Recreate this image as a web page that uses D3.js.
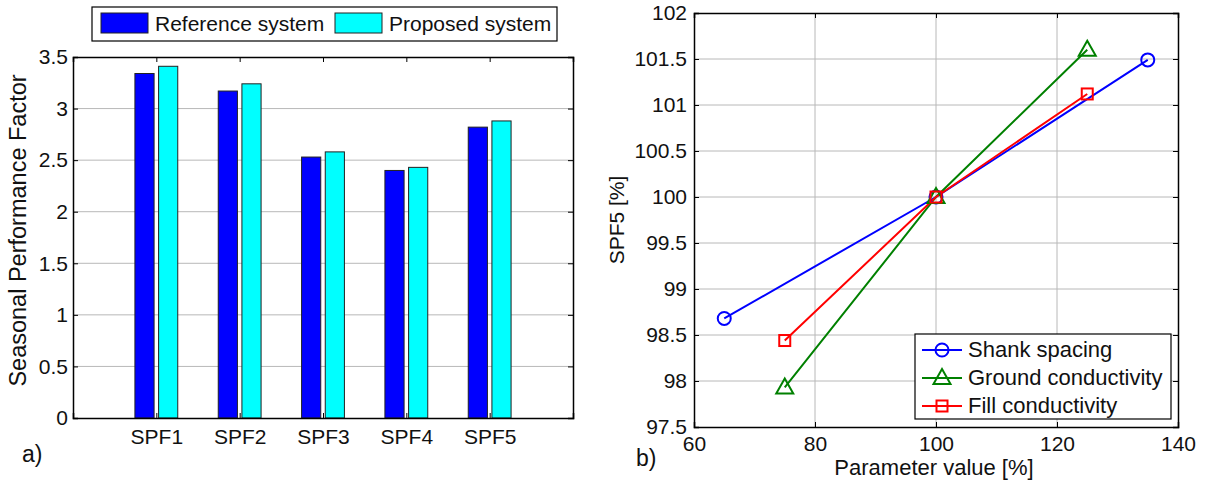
<!DOCTYPE html>
<html><head><meta charset="utf-8">
<script src="https://cdn.jsdelivr.net/npm/d3@7"></script>
<style>
body{margin:0;background:#fff;}
svg text{font-family:"Liberation Sans",Arial,Helvetica,sans-serif;fill:#111;}
</style></head>
<body><svg id="c" width="1205" height="482"></svg>
<script>
// ---- data ----
const categories = ["SPF1","SPF2","SPF3","SPF4","SPF5"];
const seriesNames = ["Reference system","Proposed system"];
const refValues = [3.34, 3.17, 2.53, 2.40, 2.82];
const propValues = [3.41, 3.24, 2.58, 2.43, 2.88];
const barYTicks = [0,0.5,1,1.5,2,2.5,3,3.5];

const lineNames = ["Shank spacing","Ground conductivity","Fill conductivity"];
const shankX = [65,100,135];
const shankY = [98.68,100,101.49];
const groundX = [75,100,125];
const groundY = [97.93,100,101.6];
const fillX = [75,100,125];
const fillY = [98.44,100,101.12];
const lineXTicks = [60,80,100,120,140];
const lineYTicks = [97.5,98,98.5,99,99.5,100,100.5,101,101.5,102];

const svg = d3.select("#c");
const FS = 21;
const gridCol = "#b8b8b8";

// ================= LEFT: bar chart =================
{
  const L=73,R=573,T=57,B=418;
  const x = d3.scaleLinear().domain([0,6]).range([L,R]);
  const y = d3.scaleLinear().domain([0,3.5]).range([B,T]);
  const g = svg.append("g");
  g.selectAll(".gy").data(barYTicks.filter(d=>d>0&&d<3.5)).join("line")
    .attr("x1",L).attr("x2",R).attr("y1",d=>y(d)).attr("y2",d=>y(d))
    .attr("stroke",gridCol).attr("stroke-width",1);
  const off = 0.142, w = 0.23;
  const cols = ["#0000ff","#00ffff"];
  [refValues,propValues].forEach((vals,s)=>{
    g.selectAll(".b"+s).data(vals).join("rect")
      .attr("x",(d,i)=>x(i+1+(s===0?-off:off)-w/2))
      .attr("width",x(w)-x(0))
      .attr("y",d=>y(d)).attr("height",d=>y(0)-y(d))
      .attr("fill",cols[s]).attr("stroke","#222").attr("stroke-width",1);
  });
  const ax = d3.axisBottom(x).tickValues([1,2,3,4,5]).tickFormat(d=>categories[d-1]).tickSize(-5).tickPadding(11);
  g.append("g").attr("transform",`translate(0,${B})`).call(ax);
  g.append("g").attr("transform",`translate(0,${T})`).call(d3.axisTop(x).tickValues([1,2,3,4,5]).tickSize(-5).tickFormat(""));
  g.append("g").attr("transform",`translate(${L},0)`).call(d3.axisLeft(y).tickValues(barYTicks).tickFormat(d3.format("")).tickSize(-5).tickPadding(5));
  g.append("g").attr("transform",`translate(${R},0)`).call(d3.axisRight(y).tickValues(barYTicks).tickSize(-5).tickFormat(""));
  g.selectAll(".domain").attr("stroke","#000").attr("stroke-width",1.5);
  g.selectAll(".tick line").attr("stroke","#000");
  g.selectAll(".tick text").attr("font-size",FS).attr("fill","#111");
  g.append("text").attr("transform",`translate(26,${(T+B)/2-7}) rotate(-90)`)
    .attr("text-anchor","middle").attr("font-size",23.5).text("Seasonal Performance Factor");
  g.append("text").attr("x",22).attr("y",462).attr("font-size",23).text("a)");
  const lg = g.append("g");
  lg.append("rect").attr("x",92).attr("y",7).attr("width",465).attr("height",34)
    .attr("fill","#fff").attr("stroke","#000").attr("stroke-width",1.2);
  const lx = [101,335];
  seriesNames.forEach((n,i)=>{
    lg.append("rect").attr("x",lx[i]).attr("y",13).attr("width",47).attr("height",20)
      .attr("fill",cols[i]).attr("stroke","#222");
    lg.append("text").attr("x",lx[i]+54).attr("y",31).attr("font-size",FS).text(n);
  });
}

// ================= RIGHT: line chart =================
{
  const L=694,R=1178,T=13,B=427;
  const x = d3.scaleLinear().domain([60,140]).range([L,R]);
  const y = d3.scaleLinear().domain([97.5,102]).range([B,T]);
  const g = svg.append("g");
  g.selectAll(".gx").data(lineXTicks.slice(1,-1)).join("line")
    .attr("x1",d=>x(d)).attr("x2",d=>x(d)).attr("y1",T).attr("y2",B)
    .attr("stroke",gridCol);
  g.selectAll(".gy").data(lineYTicks.slice(1,-1)).join("line")
    .attr("x1",L).attr("x2",R).attr("y1",d=>y(d)).attr("y2",d=>y(d))
    .attr("stroke",gridCol);
  g.append("g").attr("transform",`translate(0,${B})`).call(d3.axisBottom(x).tickValues(lineXTicks).tickSize(-5).tickPadding(9));
  g.append("g").attr("transform",`translate(0,${T})`).call(d3.axisTop(x).tickValues(lineXTicks).tickSize(-5).tickFormat(""));
  g.append("g").attr("transform",`translate(${L},0)`).call(d3.axisLeft(y).tickValues(lineYTicks).tickFormat(d3.format("")).tickSize(-5).tickPadding(7));
  g.append("g").attr("transform",`translate(${R},0)`).call(d3.axisRight(y).tickValues(lineYTicks).tickSize(-5).tickFormat(""));
  g.selectAll(".domain").attr("stroke","#000").attr("stroke-width",1.5);
  g.selectAll(".tick line").attr("stroke","#000");
  g.selectAll(".tick text").attr("font-size",FS).attr("fill","#111");

  const series = [
    {name:lineNames[0],xs:shankX,ys:shankY,col:"#0000ff",m:"circle"},
    {name:lineNames[1],xs:groundX,ys:groundY,col:"#008000",m:"triangle"},
    {name:lineNames[2],xs:fillX,ys:fillY,col:"#ff0000",m:"square"}
  ];
  const line = d3.line().x(d=>x(d[0])).y(d=>y(d[1]));
  function marker(sel,type,col,cx,cy){
    if(type==="circle") sel.append("circle").attr("cx",cx).attr("cy",cy).attr("r",6.5)
      .attr("fill","none").attr("stroke",col).attr("stroke-width",2);
    else if(type==="triangle") sel.append("path")
      .attr("d",`M${cx},${cy-9}L${cx+8.5},${cy+6}L${cx-8.5},${cy+6}Z`)
      .attr("fill","none").attr("stroke",col).attr("stroke-width",2);
    else sel.append("rect").attr("x",cx-5.5).attr("y",cy-5.5).attr("width",11).attr("height",11)
      .attr("fill","none").attr("stroke",col).attr("stroke-width",2);
  }
  series.forEach(s=>{
    const pts = s.xs.map((v,i)=>[v,s.ys[i]]);
    g.append("path").attr("d",line(pts)).attr("fill","none").attr("stroke",s.col).attr("stroke-width",2);
  });
  series.forEach(s=>{
    s.xs.forEach((v,i)=>marker(g,s.m,s.col,x(v),y(s.ys[i])));
  });
  g.append("text").attr("transform",`translate(624,${(T+B)/2}) rotate(-90)`)
    .attr("text-anchor","middle").attr("font-size",FS).text("SPF5 [%]");
  g.append("text").attr("x",(L+R)/2-2).attr("y",475).attr("text-anchor","middle").attr("font-size",22).text("Parameter value [%]");
  g.append("text").attr("x",636).attr("y",466).attr("font-size",23).text("b)");
  const lg = g.append("g");
  lg.append("rect").attr("x",915).attr("y",334).attr("width",256).attr("height",85)
    .attr("fill","#fff").attr("stroke","#000").attr("stroke-width",1.2);
  series.forEach((s,i)=>{
    const yy = 350+i*28;
    lg.append("line").attr("x1",922).attr("x2",962).attr("y1",yy).attr("y2",yy).attr("stroke",s.col).attr("stroke-width",2);
    marker(lg,s.m,s.col,942,yy);
    lg.append("text").attr("x",968).attr("y",yy+7).attr("font-size",22).text(s.name);
  });
}
</script></body></html>
